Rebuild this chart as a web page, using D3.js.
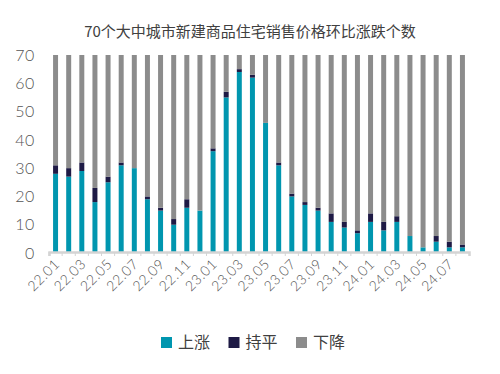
<!DOCTYPE html>
<html>
<head>
<meta charset="utf-8">
<script src="https://cdn.jsdelivr.net/npm/d3@7"></script>
<style>
  body { margin: 0; background: #fff; }
  svg text { font-family: Lato, "Noto Sans CJK SC", sans-serif; }
</style>
</head>
<body>
<svg id="chart" width="500" height="374"></svg>
<script>
// 月份
var months = ['22.01','22.02','22.03','22.04','22.05','22.06','22.07','22.08','22.09','22.10','22.11','22.12',
              '23.01','23.02','23.03','23.04','23.05','23.06','23.07','23.08','23.09','23.10','23.11','23.12',
              '24.01','24.02','24.03','24.04','24.05','24.06','24.07','24.08'];
// 上涨 / 持平 个数 (下降 = 70 - 上涨 - 持平)
var shangzhang = [28,27,29,18,25,31,30,19,15,10,16,15, 36,55,64,62,46,31,20,17,15,11,9,7, 11,8,11,6,2,4,2,2];
var chiping    = [3,3,3,5,2,1,0,1,1,2,3,0, 1,2,1,1,0,1,1,1,1,3,2,1, 3,3,2,0,0,2,2,1];
var xiajiang   = shangzhang.map((v, i) => 70 - v - chiping[i]);
var yTicks = [0,10,20,30,40,50,60,70];
var seriesNames = ['上涨','持平','下降'];
var cores = ['#0096AF','#1E1A45','#8C8C8C'];

var svg = d3.select('#chart');

var x = d3.scaleBand().domain(months).range([49, 469]).paddingInner(0.62).paddingOuter(0.31);
var y = d3.scaleLinear().domain([0, 70]).range([253, 55]);

//título
svg.append('text').attr('x', 250).attr('y', 37).attr('text-anchor', 'middle')
  .attr('font-size', 15).attr('fill', '#404040')
  .style('font-family', '"Noto Sans CJK SC", sans-serif').text('70个大中城市新建商品住宅销售价格环比涨跌个数');

//empilhar
var tabela = months.map((m, i) => ({mes: m, '上涨': shangzhang[i], '持平': chiping[i], '下降': xiajiang[i]}));
var pilha = d3.stack().keys(seriesNames)(tabela);

svg.append('g').selectAll('g').data(pilha).join('g')
  .attr('fill', (d, i) => cores[i])
  .selectAll('rect').data(d => d).join('rect')
  .attr('x', d => x(d.data.mes))
  .attr('width', x.bandwidth())
  .attr('y', d => y(d[1]))
  .attr('height', d => y(d[0]) - y(d[1]));

//eixo y
svg.append('g').selectAll('text').data(yTicks).join('text')
  .attr('x', 35).attr('y', d => y(d)).attr('dy', '0.36em')
  .attr('text-anchor', 'end').attr('font-size', 16).attr('font-weight', 300)
  .attr('letter-spacing', 0.6)
  .attr('fill', '#555').text(d => d);

//eixo x
var eixo = svg.append('g').attr('transform', 'translate(0,252)')
  .call(d3.axisBottom(x).tickSize(4).tickFormat((d, i) => i % 2 == 0 ? d : ''));
eixo.select('.domain').attr('stroke', '#d4d4d4').attr('stroke-width', 2.5);
eixo.selectAll('.tick line').attr('stroke', '#d4d4d4')
  .attr('transform', 'translate(' + (-x.step() / 2) + ',0)');
eixo.selectAll('.tick text')
  .attr('font-size', 14).attr('font-weight', 300).attr('fill', '#555')
  .attr('letter-spacing', 0.5)
  .attr('text-anchor', 'end').attr('dy', 0).attr('y', 0)
  .attr('transform', 'translate(5,13) rotate(-45)');

//legenda
var leg = svg.append('g').selectAll('g').data(seriesNames).join('g')
  .attr('transform', (d, i) => 'translate(' + (161 + i * 67.5) + ',337)');
leg.append('rect').attr('width', 11).attr('height', 11).attr('fill', (d, i) => cores[i]);
leg.append('text').attr('x', 17).attr('y', 5.5).attr('dy', '0.35em')
  .attr('font-size', 16).attr('fill', '#404040')
  .style('font-family', '"Noto Sans CJK SC", sans-serif').text(d => d);
</script>
</body>
</html>
